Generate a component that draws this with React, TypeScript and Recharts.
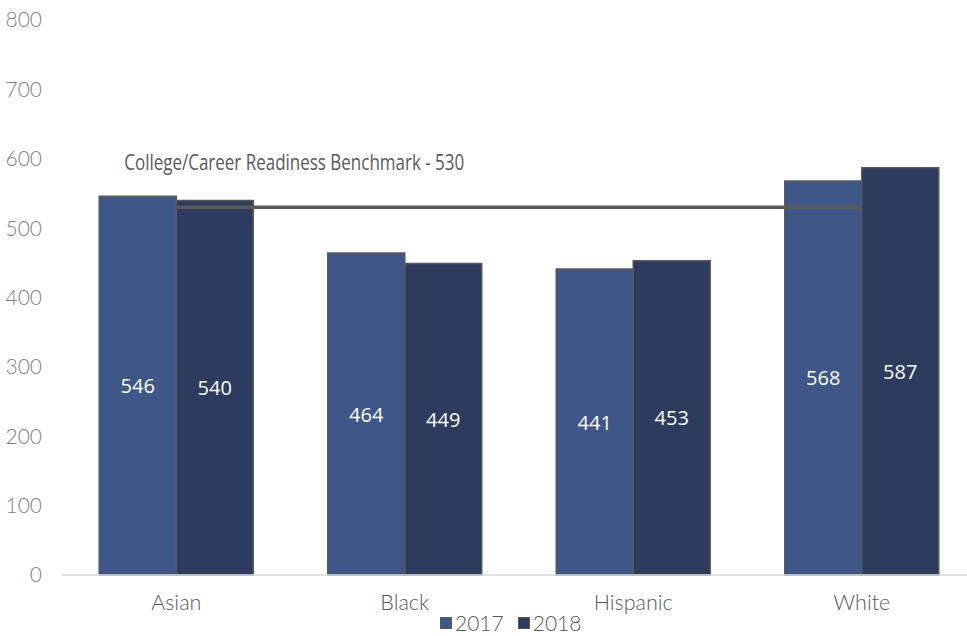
import React from "react";
import { ComposedChart, Bar, Line, XAxis, YAxis, LabelList } from "recharts";

const categories = ["Asian", "Black", "Hispanic", "White"];
const values2017 = [546, 464, 441, 568];
const values2018 = [540, 449, 453, 587];
const benchmark = 530;
const benchmarkLabel = "College/Career Readiness Benchmark - 530";
const yTicks = [0, 100, 200, 300, 400, 500, 600, 700, 800];
const seriesNames = ["2017", "2018"];

const data = categories.map((c, i) => ({
  name: c,
  y2017: values2017[i],
  y2018: values2018[i],
  benchmark: benchmark,
}));

const C2017 = "#3E5688";
const C2018 = "#2C3B5E";

const BenchLabel = (props: any) => {
  const { x, y, index } = props;
  if (index !== 0) return null;
  return (
    <text
      x={x - 52}
      y={y - 37}
      fill="#595959"
      fontSize={21}
      textLength={340}
      lengthAdjust="spacingAndGlyphs"
      fontFamily="'Open Sans', sans-serif"
    >
      {benchmarkLabel}
    </text>
  );
};

const BarLabel = (props: any) => {
  const { x, y, width, height, value } = props;
  return (
    <text
      x={x + width / 2}
      y={y + height / 2}
      textAnchor="middle"
      dominantBaseline="central"
      fill="#ffffff"
      fontSize={20}
      fontFamily="'Open Sans', sans-serif"
    >
      {value}
    </text>
  );
};

export default function App() {
  return (
    <div style={{ position: "fixed", top: 0, left: 0, width: 967, height: 636, overflow: "hidden", background: "#fff" }}>
      <ComposedChart
        width={976}
        height={636}
        data={data}
        margin={{ top: 20, right: 0, bottom: 31, left: 0 }}
        barCategoryGap="16.3%"
        barGap={0}
      >
        <XAxis
          dataKey="name"
          axisLine={{ stroke: "#d9d9d9", strokeWidth: 1.5 }}
          tickLine={false}
          tickSize={0}
          tickMargin={20}
          height={30}
          tick={{ fill: "#595959", fontSize: 21.5, fontFamily: "Lato, sans-serif", fontWeight: 300 }}
        />
        <YAxis
          domain={[0, 800]}
          ticks={yTicks}
          axisLine={false}
          tickLine={false}
          tickSize={0}
          tickMargin={20}
          width={62}
          tick={{ fill: "#7f7f7f", fontSize: 21, fontFamily: "Lato, sans-serif", fontWeight: 300 }}
        />
        <Bar dataKey="y2017" fill={C2017} stroke="#595959" strokeWidth={1.5} isAnimationActive={false}>
          <LabelList dataKey="y2017" content={BarLabel} />
        </Bar>
        <Bar dataKey="y2018" fill={C2018} stroke="#595959" strokeWidth={1.5} isAnimationActive={false}>
          <LabelList dataKey="y2018" content={BarLabel} />
        </Bar>
        <Line
          dataKey="benchmark"
          stroke="#595959"
          strokeWidth={3.5}
          dot={false}
          activeDot={false}
          isAnimationActive={false}
        >
          <LabelList dataKey="benchmark" content={BenchLabel} />
        </Line>
      </ComposedChart>
      <div
        style={{
          position: "absolute",
          top: 612,
          left: 440,
          display: "flex",
          alignItems: "center",
          fontFamily: "Lato, sans-serif",
          fontWeight: 300,
          fontSize: 21,
          color: "#595959",
          lineHeight: "22px",
          whiteSpace: "nowrap",
        }}
      >
        {seriesNames.map((n, i) => (
          <span key={n} style={{ display: "flex", alignItems: "center", marginRight: i === 0 ? 14 : 0 }}>
            <span
              style={{
                display: "inline-block",
                width: 12,
                height: 12,
                background: i === 0 ? C2017 : C2018,
                border: "1px solid #595959",
                boxSizing: "border-box",
                marginRight: 3,
              }}
            />
            {n}
          </span>
        ))}
      </div>
    </div>
  );
}
